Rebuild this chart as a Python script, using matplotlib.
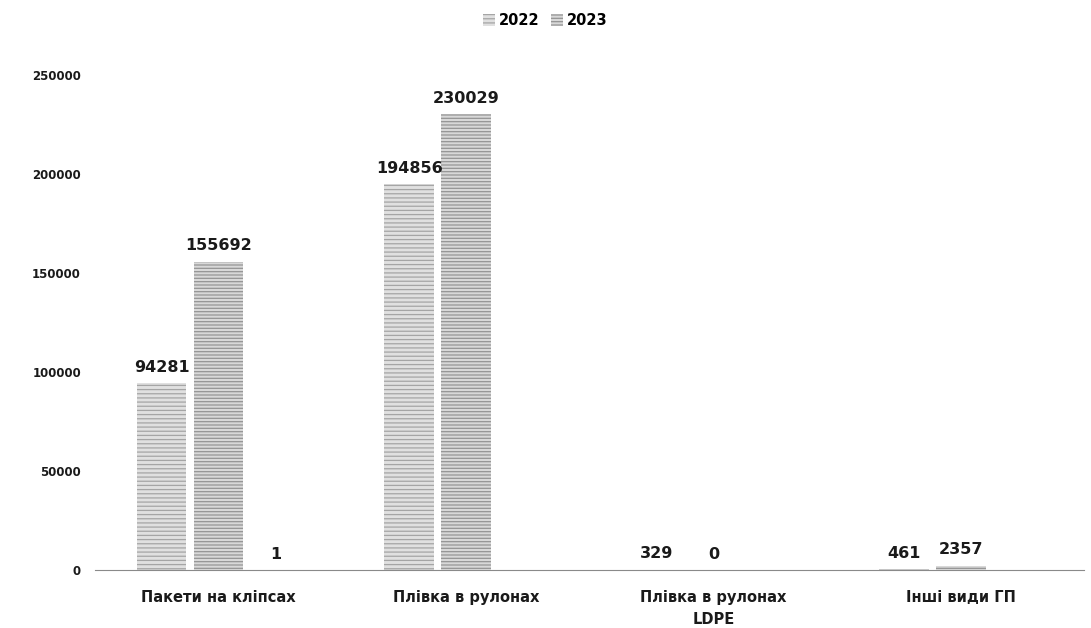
import numpy as np
import matplotlib.pyplot as plt

categories = ["Пакети на кліпсах", "Плівка в рулонах", "Плівка в рулонах\nLDPE", "Інші види ГП"]
v2022 = [94281, 194856, 329, 461]
v2023 = [155692, 230029, 0, 2357]
extra = [1, np.nan, np.nan, np.nan]   # stray third series seen only on the first group
y_ticks = [0, 50000, 100000, 150000, 200000, 250000]

plt.rcParams['font.family'] = ['DejaVu Sans']
plt.rcParams['hatch.linewidth'] = 0.9

fig = plt.figure(figsize=(10.91, 6.28), dpi=100)
ax = fig.add_axes([0.087, 0.092, 0.907, 0.789])

x = np.arange(len(categories))
step = 0.23
w = 0.2

b1 = ax.bar(x - step, v2022, w, color='#e0e0e0', edgecolor='#a5a5a5', linewidth=0,
            hatch='----', label='2022')
b2 = ax.bar(x, v2023, w, color='#d8d8d8', edgecolor='#959595', linewidth=0,
            hatch='-----', label='2023')
b3 = ax.bar(x + step, extra, w, color='#d8d8d8', linewidth=0)

for bars, vals in [(b1, v2022), (b2, v2023), (b3, extra)]:
    for rect, v in zip(bars, vals):
        if np.isnan(v):
            continue
        ax.annotate(f"{int(v)}", (rect.get_x() + rect.get_width() / 2, v),
                    xytext=(0, 6), textcoords='offset points', ha='center', va='bottom',
                    fontsize=11.5, fontweight='bold', color='#1a1a1a')

ax.set_xlim(-0.5, 3.5)
ax.set_ylim(0, 250000)
ax.set_yticks(y_ticks)
ax.set_yticklabels([str(t) for t in y_ticks], fontsize=8.5, fontweight='bold', color='#1a1a1a')
ax.set_xticks(x)
ax.set_xticklabels(categories, fontsize=10.5, fontweight='bold', color='#1a1a1a',
                   linespacing=1.6)
ax.tick_params(axis='both', length=0)
ax.tick_params(axis='x', pad=14)
ax.tick_params(axis='y', pad=10)

for s in ['top', 'right', 'left']:
    ax.spines[s].set_visible(False)
ax.spines['bottom'].set_color('#8a8a8a')
ax.spines['bottom'].set_linewidth(0.8)

fig.legend(handles=[b1, b2], labels=['2022', '2023'], loc='upper center',
           bbox_to_anchor=(0.5, 1.0), ncol=2, frameon=False, handlelength=0.8,
           handleheight=0.8, handletextpad=0.3, columnspacing=0.8,
           prop={'weight': 'bold', 'size': 10.5})

fig.savefig('out.png', dpi=100)
